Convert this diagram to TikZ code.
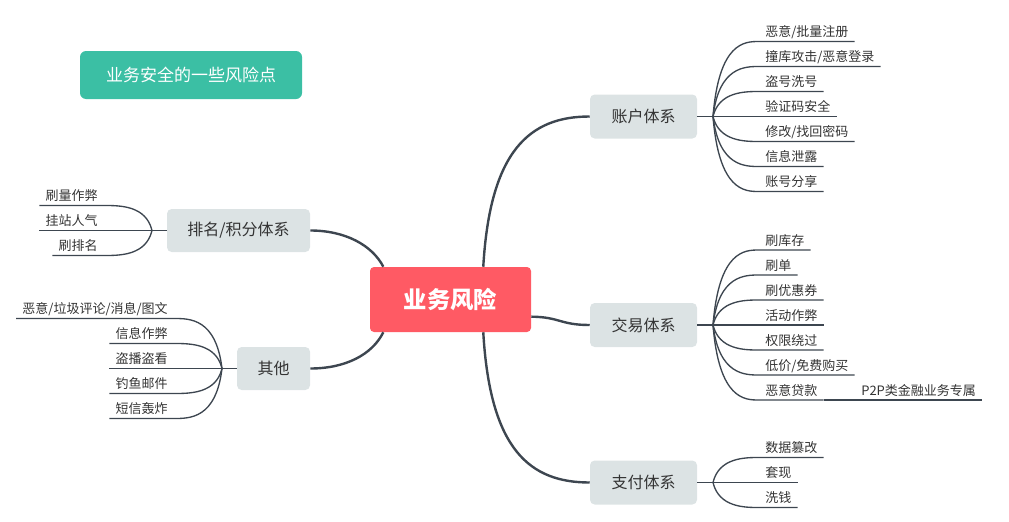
\documentclass[tikz,border=0pt]{standalone}
\usepackage{fontspec}
\setmainfont{Noto Sans CJK SC}
\definecolor{redc}{HTML}{FF5A64}
\definecolor{tealc}{HTML}{3BBFA4}
\definecolor{boxc}{HTML}{DCE3E4}
\definecolor{linec}{HTML}{3D4650}
\definecolor{txtc}{HTML}{333333}
\begin{document}
\begin{tikzpicture}[x=0.75pt,y=-0.75pt,
  central/.style={rectangle, rounded corners=3pt, fill=redc, text=white, minimum width=120.75pt, minimum height=48.75pt, inner sep=0pt, font=\fontsize{17.5}{20}\selectfont\bfseries},
  branch/.style={rectangle, rounded corners=3.5pt, fill=boxc, text=txtc, minimum width=80.25pt, minimum height=33pt, inner sep=0pt, font=\fontsize{12}{14}\selectfont},
  titlebox/.style={rectangle, rounded corners=4.5pt, fill=tealc, text=white, minimum width=166.5pt, minimum height=36pt, inner sep=0pt, font=\fontsize{12.75}{15}\selectfont},
  rchild/.style={anchor=south west, inner xsep=4.5pt, inner ysep=3.25pt, text depth=0pt, text=txtc, font=\fontsize{9.75}{12}\selectfont},
  lchild/.style={rchild, anchor=south east},
  mainline/.style={draw=linec, line width=1.8pt},
  stemline/.style={draw=linec, line width=1.4pt},
  subline/.style={draw=linec, line width=1pt}]
\useasboundingbox (0,0) rectangle (1009,521);

% nodes
\node[titlebox] (title) at (191,75) {业务安全的一些风险点};
\node[central] (core) at (450.5,299.5) {业务风险};
\node[branch] (acc) at (643.5,116.5) {账户体系};
\node[branch] (tra) at (643.5,325) {交易体系};
\node[branch] (pay) at (643.5,482.5) {支付体系};
\node[branch, minimum width=107.25pt, minimum height=32.25pt] (rank) at (238.5,230.5) {排名/积分体系};
\node[branch, minimum width=54.75pt, minimum height=32.25pt] (oth) at (273.5,368.5) {其他};

% main connectors
\draw[mainline] (core.45) .. controls (490,150) and (530,116.5) .. (acc.west);
\draw[mainline] (core.-12) .. controls (560,317) and (560,325) .. (tra.west);
\draw[mainline] (core.-45) .. controls (490,450) and (530,482.5) .. (pay.west);
\draw[mainline] (core.154) .. controls (372,245) and (345,230.5) .. (rank.east);
\draw[mainline] (core.-154) .. controls (372,355) and (345,368.5) .. (oth.east);

% branch points
\coordinate (bracc) at (713,116.5);
\coordinate (brtra) at (713,325);
\coordinate (brpay) at (713,482.5);
\coordinate (brrank) at (152,230.5);
\coordinate (broth) at (222,368.5);
\draw[stemline] (acc.east) -- (bracc);
\draw[stemline] (tra.east) -- (brtra);
\draw[stemline] (pay.east) -- (brpay);
\draw[stemline] (rank.west) -- (brrank);
\draw[stemline] (oth.west) -- (broth);

% account children
\foreach \t [count=\i] in {{恶意/批量注册},{撞库攻击/恶意登录},{盗号洗号},{验证码安全},{修改/找回密码},{信息泄露},{账号分享}} {
  \pgfmathsetmacro\yy{16.5+25*\i}
  \node[rchild] (acc\i) at (759,\yy) {\t};
  \draw[subline] (bracc) .. controls (719,\yy) and (745,\yy) .. (acc\i.south west) -- (acc\i.south east);
}
% trade children
\foreach \t [count=\i] in {{刷库存},{刷单},{刷优惠券},{活动作弊},{权限绕过},{低价/免费购买},{恶意贷款}} {
  \pgfmathsetmacro\yy{225+25*\i}
  \node[rchild] (tra\i) at (759,\yy) {\t};
  \draw[subline] (brtra) .. controls (719,\yy) and (745,\yy) .. (tra\i.south west) -- (tra\i.south east);
}
\node[rchild] (p2p) at (855,400) {P2P类金融业务专属};
\draw[subline] (tra7.south east) -- (p2p.south west) -- (p2p.south east);
% pay children
\foreach \t [count=\i] in {{数据篡改},{套现},{洗钱}} {
  \pgfmathsetmacro\yy{432.5+25*\i}
  \node[rchild] (pay\i) at (759,\yy) {\t};
  \draw[subline] (brpay) .. controls (719,\yy) and (745,\yy) .. (pay\i.south west) -- (pay\i.south east);
}
% rank children
\foreach \t [count=\i] in {{刷量作弊},{挂站人气},{刷排名}} {
  \pgfmathsetmacro\yy{180.5+25*\i}
  \node[lchild] (rank\i) at (104,\yy) {\t};
  \draw[subline] (rank\i.south west) -- (rank\i.south east) .. controls (120,\yy) and (146,\yy) .. (brrank);
}
% other children
\foreach \t [count=\i] in {{恶意/垃圾评论/消息/图文},{信息作弊},{盗播盗看},{钓鱼邮件},{短信轰炸}} {
  \pgfmathsetmacro\yy{293.5+25*\i}
  \node[lchild] (oth\i) at (174,\yy) {\t};
  \draw[subline] (oth\i.south west) -- (oth\i.south east) .. controls (190,\yy) and (216,\yy) .. (broth);
}
\end{tikzpicture}
\end{document}
